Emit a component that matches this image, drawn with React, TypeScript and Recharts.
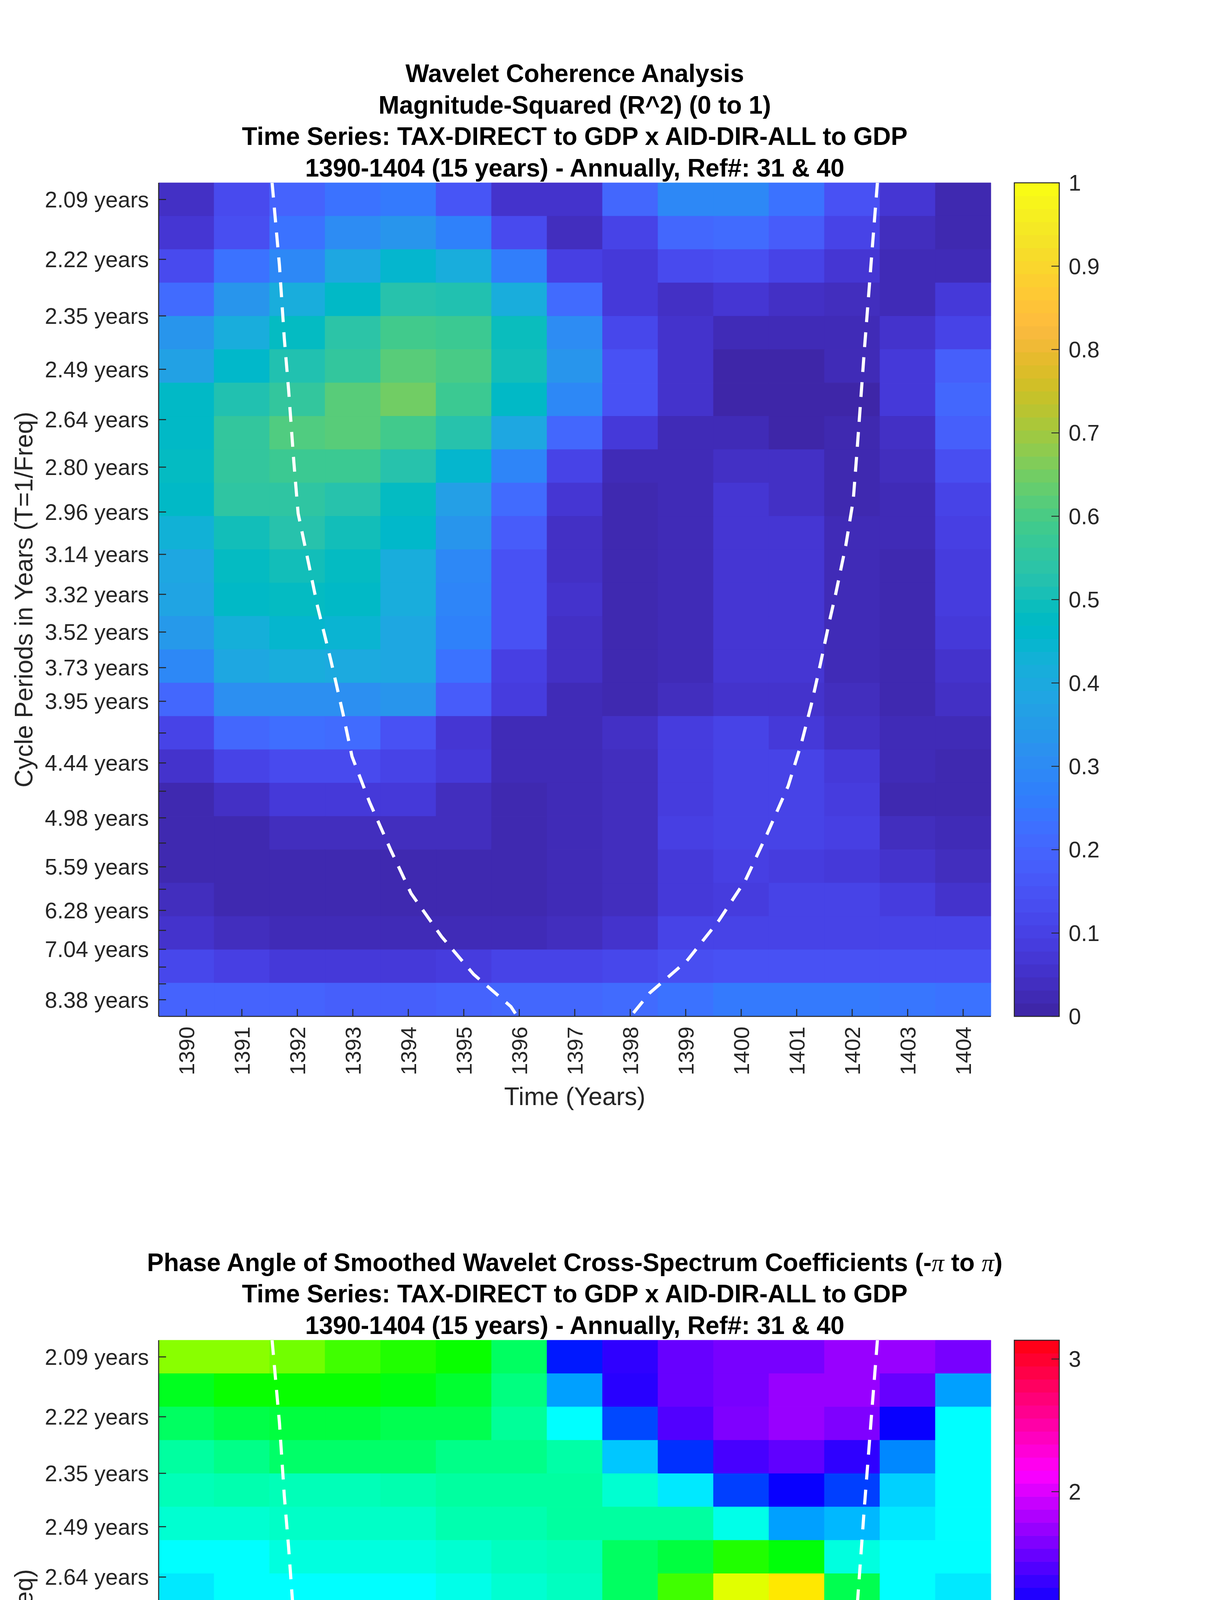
import { ComposedChart, XAxis, YAxis, ReferenceArea, Scatter } from 'recharts'

// ── Fonts / ink ───────────────────────────────────────────────────────────────
const FONT = '"Liberation Sans", Arial, Helvetica, sans-serif'
const SERIF = '"Liberation Serif", "Times New Roman", serif'
const INK = '#262626'

// ── Data ──────────────────────────────────────────────────────────────────────
const YEARS = [1390, 1391, 1392, 1393, 1394, 1395, 1396, 1397, 1398, 1399, 1400, 1401, 1402, 1403, 1404]

// wavelet scales (cycle period in years), top row first
const PERIODS = [
  2.0944, 2.2189, 2.3509, 2.4907, 2.6388, 2.7957, 2.9619, 3.1381, 3.3247, 3.5223,
  3.7318, 3.9537, 4.1888, 4.4379, 4.7018, 4.9813, 5.2775, 5.5914, 5.9238, 6.2761,
  6.6493, 7.0447, 7.4636, 7.9074, 8.3776,
]
const PERIOD_LABELS = [
  '2.09 years', '2.22 years', '2.35 years', '2.49 years', '2.64 years', '2.80 years',
  '2.96 years', '3.14 years', '3.32 years', '3.52 years', '3.73 years', '3.95 years',
  '', '4.44 years', '', '4.98 years', '', '5.59 years', '', '6.28 years', '',
  '7.04 years', '', '', '8.38 years',
]

// magnitude-squared coherence, one row per period
const COHERENCE = [
  [0.04, 0.12, 0.19, 0.23, 0.25, 0.15, 0.05, 0.05, 0.20, 0.29, 0.29, 0.23, 0.14, 0.06, 0.01],
  [0.06, 0.13, 0.23, 0.30, 0.33, 0.27, 0.12, 0.03, 0.10, 0.20, 0.21, 0.17, 0.10, 0.03, 0.01],
  [0.12, 0.23, 0.29, 0.39, 0.45, 0.41, 0.26, 0.09, 0.07, 0.12, 0.13, 0.10, 0.06, 0.02, 0.02],
  [0.21, 0.33, 0.41, 0.47, 0.53, 0.52, 0.41, 0.21, 0.07, 0.04, 0.06, 0.04, 0.03, 0.02, 0.07],
  [0.33, 0.41, 0.48, 0.54, 0.59, 0.58, 0.49, 0.30, 0.11, 0.05, 0.02, 0.02, 0.02, 0.05, 0.10],
  [0.37, 0.46, 0.52, 0.56, 0.62, 0.60, 0.50, 0.33, 0.14, 0.05, 0.00, 0.00, 0.02, 0.07, 0.18],
  [0.47, 0.52, 0.56, 0.62, 0.65, 0.58, 0.47, 0.29, 0.14, 0.05, 0.00, 0.00, 0.00, 0.07, 0.20],
  [0.47, 0.56, 0.61, 0.62, 0.59, 0.53, 0.39, 0.20, 0.07, 0.02, 0.02, 0.00, 0.01, 0.04, 0.18],
  [0.48, 0.56, 0.58, 0.58, 0.53, 0.45, 0.28, 0.10, 0.02, 0.02, 0.04, 0.04, 0.01, 0.03, 0.13],
  [0.47, 0.55, 0.55, 0.53, 0.48, 0.36, 0.21, 0.06, 0.01, 0.02, 0.06, 0.04, 0.01, 0.02, 0.10],
  [0.43, 0.50, 0.53, 0.50, 0.46, 0.33, 0.17, 0.04, 0.01, 0.02, 0.06, 0.06, 0.02, 0.02, 0.09],
  [0.39, 0.48, 0.50, 0.48, 0.41, 0.29, 0.14, 0.04, 0.01, 0.02, 0.06, 0.06, 0.02, 0.01, 0.08],
  [0.38, 0.47, 0.48, 0.47, 0.41, 0.28, 0.14, 0.05, 0.01, 0.02, 0.06, 0.06, 0.02, 0.01, 0.08],
  [0.34, 0.42, 0.45, 0.44, 0.39, 0.27, 0.14, 0.04, 0.01, 0.02, 0.06, 0.06, 0.02, 0.01, 0.07],
  [0.29, 0.39, 0.41, 0.40, 0.39, 0.23, 0.09, 0.04, 0.01, 0.02, 0.06, 0.06, 0.02, 0.01, 0.05],
  [0.20, 0.31, 0.31, 0.31, 0.33, 0.17, 0.08, 0.02, 0.01, 0.03, 0.05, 0.05, 0.03, 0.01, 0.04],
  [0.10, 0.20, 0.22, 0.21, 0.14, 0.06, 0.02, 0.02, 0.04, 0.08, 0.10, 0.07, 0.04, 0.02, 0.02],
  [0.05, 0.10, 0.12, 0.12, 0.10, 0.07, 0.02, 0.02, 0.03, 0.08, 0.10, 0.10, 0.07, 0.02, 0.01],
  [0.01, 0.04, 0.07, 0.07, 0.07, 0.03, 0.01, 0.02, 0.03, 0.08, 0.10, 0.10, 0.08, 0.01, 0.01],
  [0.01, 0.01, 0.03, 0.03, 0.03, 0.03, 0.01, 0.02, 0.03, 0.09, 0.10, 0.10, 0.09, 0.03, 0.02],
  [0.01, 0.01, 0.01, 0.01, 0.01, 0.01, 0.01, 0.02, 0.03, 0.07, 0.09, 0.08, 0.07, 0.05, 0.03],
  [0.03, 0.01, 0.01, 0.01, 0.01, 0.01, 0.01, 0.02, 0.03, 0.07, 0.08, 0.10, 0.10, 0.08, 0.05],
  [0.05, 0.03, 0.02, 0.02, 0.02, 0.02, 0.02, 0.03, 0.05, 0.10, 0.10, 0.10, 0.10, 0.10, 0.10],
  [0.11, 0.09, 0.07, 0.07, 0.07, 0.08, 0.10, 0.10, 0.11, 0.13, 0.14, 0.14, 0.14, 0.14, 0.14],
  [0.19, 0.19, 0.19, 0.18, 0.18, 0.19, 0.20, 0.20, 0.21, 0.23, 0.25, 0.25, 0.25, 0.24, 0.23],
]

// phase angle (radians), one row per period
const PHASE = [
  [-1.61, -1.61, -1.51, -1.31, -1.18, -1.08, -0.65, 0.95, 1.24, 1.47, 1.54, 1.54, 1.67, 1.67, 1.54],
  [-0.92, -1.08, -1.08, -1.08, -0.98, -0.85, -0.52, 0.39, 1.21, 1.47, 1.54, 1.67, 1.67, 1.47, 0.39],
  [-0.65, -0.75, -0.79, -0.79, -0.72, -0.72, -0.42, 0.00, 0.75, 1.38, 1.57, 1.67, 1.57, 1.08, 0.00],
  [-0.39, -0.49, -0.62, -0.62, -0.62, -0.49, -0.49, -0.36, 0.23, 0.85, 1.34, 1.44, 1.24, 0.49, 0.00],
  [-0.29, -0.33, -0.29, -0.29, -0.33, -0.39, -0.39, -0.39, -0.19, 0.09, 0.79, 1.08, 0.79, 0.19, 0.00],
  [-0.19, -0.19, -0.23, -0.23, -0.23, -0.33, -0.33, -0.39, -0.39, -0.39, -0.09, 0.39, 0.29, 0.09, 0.00],
  [0.00, 0.00, -0.13, -0.13, -0.13, -0.19, -0.26, -0.29, -0.65, -0.79, -1.18, -1.01, -0.13, 0.00, 0.00],
  [0.09, 0.00, 0.00, 0.00, 0.00, -0.09, -0.19, -0.26, -0.65, -1.31, -1.97, -2.19, -0.72, 0.00, 0.09],
  [0.19, 0.09, 0.09, 0.09, 0.09, 0.09, 0.00, -0.09, -0.65, -2.07, -2.55, -2.65, -2.25, 0.19, 0.19],
  [0.19, 0.19, 0.19, 0.19, 0.19, 0.19, 0.19, 0.19, -0.13, -2.75, -2.84, -2.84, -2.94, 0.39, 0.29],
  [0.29, 0.29, 0.29, 0.29, 0.29, 0.29, 0.39, 0.49, 1.18, -3.04, -2.94, -2.94, -3.13, 0.59, 0.39],
  [0.39, 0.29, 0.29, 0.29, 0.39, 0.39, 0.39, 0.59, 1.47, -3.01, -2.94, -2.94, -3.13, 0.79, 0.49],
  [0.39, 0.39, 0.39, 0.39, 0.39, 0.39, 0.49, 0.59, 1.44, -2.94, -2.84, -2.94, -3.13, 0.88, 0.49],
  [0.49, 0.49, 0.49, 0.49, 0.49, 0.49, 0.49, 0.59, 1.67, -2.94, -2.84, -2.84, -3.13, 1.18, 0.59],
  [0.55, 0.49, 0.49, 0.49, 0.55, 0.55, 0.55, 0.75, 2.09, -3.04, -2.94, -2.94, -3.13, 1.57, 0.79],
  [0.65, 0.55, 0.55, 0.55, 0.65, 0.65, 0.79, 1.15, 2.49, -3.13, -3.04, -3.04, 3.04, 2.09, 1.05],
  [0.75, 0.75, 0.75, 0.75, 0.75, 0.88, 1.15, 1.74, 2.88, 3.01, -3.04, -3.04, 3.01, 2.68, 1.41],
  [1.05, 0.98, 0.85, 0.98, 1.05, 1.15, 1.54, 2.09, 2.81, 3.01, -3.04, -3.04, -3.11, 2.88, 2.09],
  [1.34, 1.15, 1.15, 1.15, 1.18, 1.44, 1.97, 2.62, 2.94, -3.13, -3.04, -3.04, -3.04, -3.13, 2.75],
  [1.93, 1.47, 1.41, 1.41, 1.44, 1.74, 2.09, 2.75, 2.94, -3.13, -3.04, -3.04, -3.04, -3.13, 2.94],
  [2.62, 2.15, 1.97, 1.97, 1.97, 2.19, 2.62, 2.94, -3.11, -3.04, -2.98, -2.98, -2.98, -3.04, 3.11],
  [-3.13, 2.94, 2.88, 2.78, 2.88, 2.94, -3.13, -2.94, -2.84, -2.75, -2.75, -2.75, -2.75, -2.84, -2.94],
  [-2.84, -2.84, -2.94, -2.84, -2.84, -2.75, -2.65, -2.55, -2.55, -2.55, -2.55, -2.55, -2.65, -2.65, -2.75],
  [-2.65, -2.65, -2.65, -2.65, -2.65, -2.49, -2.45, -2.45, -2.35, -2.35, -2.45, -2.45, -2.45, -2.55, -2.49],
  [-2.55, -2.52, -2.52, -2.52, -2.52, -2.52, -2.45, -2.45, -2.35, -2.35, -2.35, -2.42, -2.42, -2.42, -2.52],
]

// cone of influence (time, period in years)
const COI_LEFT = [
  { t: 1391.545, p: 2.062 }, { t: 1391.678, p: 2.233 }, { t: 1391.765, p: 2.408 },
  { t: 1391.842, p: 2.548 }, { t: 1391.937, p: 2.778 }, { t: 1392.014, p: 2.967 },
  { t: 1392.197, p: 3.171 }, { t: 1392.361, p: 3.382 }, { t: 1392.601, p: 3.682 },
  { t: 1392.822, p: 4.040 }, { t: 1392.985, p: 4.381 }, { t: 1393.302, p: 4.813 },
  { t: 1393.687, p: 5.372 }, { t: 1394.052, p: 5.993 }, { t: 1394.600, p: 6.775 },
  { t: 1395.177, p: 7.649 }, { t: 1395.849, p: 8.598 }, { t: 1395.965, p: 8.936 },
]
const COI_RIGHT = [
  { t: 1402.455, p: 2.062 }, { t: 1402.356, p: 2.204 }, { t: 1402.289, p: 2.314 },
  { t: 1402.221, p: 2.436 }, { t: 1402.154, p: 2.580 }, { t: 1402.087, p: 2.742 },
  { t: 1402.020, p: 2.915 }, { t: 1401.885, p: 3.100 }, { t: 1401.703, p: 3.323 },
  { t: 1401.588, p: 3.467 }, { t: 1401.424, p: 3.715 }, { t: 1401.261, p: 3.982 },
  { t: 1401.087, p: 4.268 }, { t: 1400.847, p: 4.651 }, { t: 1400.463, p: 5.172 },
  { t: 1400.078, p: 5.784 }, { t: 1399.598, p: 6.459 }, { t: 1399.021, p: 7.311 },
  { t: 1398.348, p: 8.175 }, { t: 1398.007, p: 8.936 },
]

const COHERENCE_TICKS = [0, 0.1, 0.2, 0.3, 0.4, 0.5, 0.6, 0.7, 0.8, 0.9, 1]
const PHASE_TICKS = [-3, -2, -1, 0, 1, 2, 3]

// title lines; "π" is drawn like TeX's italic pi
const TITLE_COHERENCE = [
  'Wavelet Coherence Analysis',
  'Magnitude-Squared (R^2) (0 to 1)',
  'Time Series: TAX-DIRECT to GDP x AID-DIR-ALL to GDP',
  '1390-1404 (15 years) - Annually, Ref#: 31 & 40',
]
const TITLE_PHASE = [
  'Phase Angle of Smoothed Wavelet Cross-Spectrum Coefficients (-π to π)',
  'Time Series: TAX-DIRECT to GDP x AID-DIR-ALL to GDP',
  '1390-1404 (15 years) - Annually, Ref#: 31 & 40',
]
const X_TITLE = 'Time (Years)'
const Y_TITLE = 'Cycle Periods in Years (T=1/Freq)'

// ── Colormaps ─────────────────────────────────────────────────────────────────

// MATLAB parula(64)
const PARULA: number[][] = [
  [0.2422, 0.1504, 0.6603], [0.2504, 0.1650, 0.7076], [0.2578, 0.1818, 0.7511], [0.2647, 0.1978, 0.7952],
  [0.2706, 0.2147, 0.8364], [0.2751, 0.2342, 0.8710], [0.2783, 0.2559, 0.8991], [0.2803, 0.2782, 0.9221],
  [0.2813, 0.3006, 0.9414], [0.2810, 0.3228, 0.9579], [0.2795, 0.3447, 0.9717], [0.2760, 0.3667, 0.9829],
  [0.2699, 0.3892, 0.9906], [0.2602, 0.4123, 0.9952], [0.2440, 0.4358, 0.9988], [0.2206, 0.4603, 0.9973],
  [0.1963, 0.4847, 0.9892], [0.1834, 0.5074, 0.9798], [0.1786, 0.5289, 0.9682], [0.1764, 0.5499, 0.9520],
  [0.1687, 0.5703, 0.9359], [0.1540, 0.5902, 0.9218], [0.1460, 0.6091, 0.9079], [0.1380, 0.6276, 0.8973],
  [0.1248, 0.6459, 0.8883], [0.1113, 0.6635, 0.8763], [0.0952, 0.6798, 0.8598], [0.0689, 0.6948, 0.8394],
  [0.0297, 0.7082, 0.8163], [0.0036, 0.7203, 0.7917], [0.0067, 0.7312, 0.7660], [0.0433, 0.7411, 0.7394],
  [0.0964, 0.7500, 0.7120], [0.1408, 0.7584, 0.6842], [0.1717, 0.7670, 0.6554], [0.1938, 0.7758, 0.6251],
  [0.2161, 0.7843, 0.5923], [0.2470, 0.7918, 0.5567], [0.2906, 0.7973, 0.5188], [0.3406, 0.8008, 0.4789],
  [0.3909, 0.8029, 0.4354], [0.4456, 0.8024, 0.3909], [0.5044, 0.7993, 0.3480], [0.5616, 0.7942, 0.3045],
  [0.6174, 0.7876, 0.2612], [0.6720, 0.7793, 0.2227], [0.7242, 0.7698, 0.1910], [0.7738, 0.7598, 0.1646],
  [0.8203, 0.7498, 0.1535], [0.8634, 0.7406, 0.1596], [0.9035, 0.7330, 0.1774], [0.9393, 0.7288, 0.2100],
  [0.9728, 0.7298, 0.2394], [0.9956, 0.7434, 0.2371], [0.9970, 0.7659, 0.2199], [0.9952, 0.7893, 0.2028],
  [0.9892, 0.8136, 0.1885], [0.9786, 0.8386, 0.1766], [0.9676, 0.8639, 0.1643], [0.9610, 0.8890, 0.1537],
  [0.9597, 0.9135, 0.1423], [0.9628, 0.9373, 0.1265], [0.9691, 0.9606, 0.1064], [0.9769, 0.9839, 0.0805],
]

function rgb(r: number, g: number, b: number) {
  return `rgb(${Math.round(r * 255)},${Math.round(g * 255)},${Math.round(b * 255)})`
}

function parula(v: number) {
  const pos = Math.max(0, Math.min(1, v)) * (PARULA.length - 1)
  const i = Math.min(PARULA.length - 2, Math.floor(pos))
  const f = pos - i
  const a = PARULA[i]
  const b = PARULA[i + 1]
  return rgb(a[0] + (b[0] - a[0]) * f, a[1] + (b[1] - a[1]) * f, a[2] + (b[2] - a[2]) * f)
}

// full-saturation hsv, hue in [0,1)
function hsv(h: number) {
  const x = (((h % 1) + 1) % 1) * 6
  const i = Math.floor(x)
  const f = x - i
  const q = 1 - f
  const table = [[1, f, 0], [q, 1, 0], [0, 1, f], [0, q, 1], [f, 0, 1], [1, 0, q]]
  const c = table[i % 6]
  return rgb(c[0], c[1], c[2])
}

const phaseColor = (a: number) => hsv((a + Math.PI) / (2 * Math.PI))

// ── Geometry helpers (imagesc layout on a linear frequency axis) ─────────────

const F_FIRST = 1 / PERIODS[0]
const F_LAST = 1 / PERIODS[PERIODS.length - 1]
const ROW_STEP = (F_FIRST - F_LAST) / (PERIODS.length - 1)
const Y_DOMAIN = [F_LAST - ROW_STEP / 2, F_FIRST + ROW_STEP / 2]
const FREQ_TICKS = PERIODS.map((p) => 1 / p)
const X_DOMAIN = [YEARS[0] - 0.5, YEARS[YEARS.length - 1] + 0.5]

function freqLabel(v: number) {
  let best = 0
  FREQ_TICKS.forEach((f, i) => {
    if (Math.abs(f - v) < Math.abs(FREQ_TICKS[best] - v)) best = i
  })
  return PERIOD_LABELS[best]
}

// ── Layout (page pixels) ──────────────────────────────────────────────────────

const PAGE_W = 3125
const PAGE_H = 6252
const PLOT_LEFT = 406
const PLOT_RIGHT = 2536
const PLOT_H = 2134
const HEAD = 368          // svg space above the plot, holds the title
const X_AXIS_H = 260
const PLOT_CX = (PLOT_LEFT + PLOT_RIGHT) / 2
const AXIS_STROKE = { stroke: INK, strokeWidth: 2.6 }
const TICK_FONT = 57
const LABEL_FONT = 64
const CB_LEFT = 2596
const CB_RIGHT = 2711
const CB_PAD = 44

// ── Pieces ────────────────────────────────────────────────────────────────────

// eslint-disable-next-line @typescript-eslint/no-explicit-any
function YearTick(props: any) {
  const { x, y, payload } = props
  return (
    <text
      x={x} y={y}
      transform={`rotate(-90 ${x} ${y})`}
      textAnchor="end" dy="0.36em"
      fontSize={56} fontFamily={FONT} fill={INK}
    >
      {payload.value}
    </text>
  )
}

function TitleLine({ text, y }: { text: string; y: number }) {
  const parts = text.split('π')
  return (
    <text
      x={PLOT_CX} y={y} dy="0.36em" textAnchor="middle"
      fontFamily={FONT} fontSize={LABEL_FONT} fontWeight="bold" fill="#000"
    >
      {parts.map((p, i) => (
        <tspan key={i}>
          {p}
          {i < parts.length - 1 && (
            <tspan fontFamily={SERIF} fontStyle="italic" fontWeight="normal">π</tspan>
          )}
        </tspan>
      ))}
    </text>
  )
}

function Heatmap({
  plotTop, title, colorOf,
}: {
  plotTop: number
  title: string[]
  colorOf: (r: number, c: number) => string
}) {
  const cells = PERIODS.flatMap((_, r) =>
    YEARS.map((yr, c) => {
      const fc = F_FIRST - r * ROW_STEP
      const col = colorOf(r, c)
      return (
        <ReferenceArea
          key={`${r}-${c}`}
          x1={yr - 0.5} x2={yr + 0.5}
          y1={fc - ROW_STEP / 2} y2={fc + ROW_STEP / 2}
          fill={col} fillOpacity={1} stroke={col} strokeWidth={1}
          ifOverflow="visible"
        />
      )
    }),
  )
  const coi = (pts: { t: number; p: number }[]) => pts.map((d) => ({ t: d.t, f: 1 / d.p }))
  const dashed = { stroke: '#ffffff', strokeWidth: 8, strokeDasharray: '38 26', fill: 'none' }
  // title line centres, counted up from the plot top
  const lineY = [-39, -120, -200, -281].slice(0, title.length).reverse()

  return (
    <div style={{ position: 'absolute', left: 0, top: plotTop - HEAD }}>
      <ComposedChart
        width={PAGE_W}
        height={HEAD + PLOT_H + X_AXIS_H}
        margin={{ top: HEAD, right: PAGE_W - PLOT_RIGHT, bottom: 0, left: 0 }}
      >
        {cells}
        <Scatter data={coi(COI_LEFT)} fill="none" line={dashed} lineType="joint" shape={() => <g />} isAnimationActive={false} />
        <Scatter data={coi(COI_RIGHT)} fill="none" line={dashed} lineType="joint" shape={() => <g />} isAnimationActive={false} />
        <XAxis
          dataKey="t" type="number" domain={X_DOMAIN} ticks={YEARS} interval={0} allowDataOverflow
          height={X_AXIS_H} tickSize={-19} tickMargin={45}
          axisLine={AXIS_STROKE} tickLine={AXIS_STROKE} tick={<YearTick />}
        />
        <XAxis
          xAxisId="top" orientation="top" type="number" domain={X_DOMAIN} ticks={YEARS} interval={0}
          allowDataOverflow height={0} tickSize={-19} tick={false}
          axisLine={AXIS_STROKE} tickLine={AXIS_STROKE}
        />
        <YAxis
          dataKey="f" type="number" domain={Y_DOMAIN} ticks={FREQ_TICKS} interval={0} allowDataOverflow
          width={PLOT_LEFT} tickSize={-19} tickMargin={44} tickFormatter={freqLabel}
          axisLine={AXIS_STROKE} tickLine={AXIS_STROKE}
          tick={{ fontSize: TICK_FONT, fontFamily: FONT, fill: INK }}
        />
        <YAxis
          yAxisId="right" orientation="right" type="number" domain={Y_DOMAIN} ticks={FREQ_TICKS}
          interval={0} allowDataOverflow width={0} tickSize={-19} tick={false}
          axisLine={AXIS_STROKE} tickLine={AXIS_STROKE}
        />
        {title.map((t, i) => (
          <TitleLine key={t} text={t} y={HEAD + lineY[i]} />
        ))}
        <text
          x={PLOT_CX} y={HEAD + PLOT_H + 204} dy="0.36em" textAnchor="middle"
          fontFamily={FONT} fontSize={LABEL_FONT} fill={INK}
        >
          {X_TITLE}
        </text>
        <text
          x={60} y={HEAD + PLOT_H / 2} dy="0.36em" textAnchor="middle"
          transform={`rotate(-90 60 ${HEAD + PLOT_H / 2})`}
          fontFamily={FONT} fontSize={LABEL_FONT} fill={INK}
        >
          {Y_TITLE}
        </text>
      </ComposedChart>
    </div>
  )
}

function Colorbar({
  plotTop, domain, ticks, colorOfBand, format,
}: {
  plotTop: number
  domain: number[]
  ticks: number[]
  colorOfBand: (i: number) => string
  format: (v: number) => string
}) {
  const n = 64
  const step = (domain[1] - domain[0]) / n
  const centres = Array.from({ length: n }, (_, i) => ({ x: 0.5, y: domain[0] + (i + 0.5) * step }))
  const bands = centres.map((c, i) => (
    <ReferenceArea
      key={i}
      x1={0} x2={1}
      y1={c.y - step / 2} y2={c.y + step / 2}
      fill={colorOfBand(i)} fillOpacity={1} stroke={colorOfBand(i)} strokeWidth={1}
      ifOverflow="visible"
    />
  ))
  const left = 2560
  const width = 380
  return (
    <div style={{ position: 'absolute', left, top: plotTop - CB_PAD }}>
      <ComposedChart
        width={width}
        height={PLOT_H + 2 * CB_PAD}
        margin={{ top: CB_PAD, right: width - 180 - (CB_RIGHT - left), bottom: CB_PAD, left: CB_LEFT - left }}
      >
        {bands}
        <Scatter data={centres} fill="none" shape={() => <g />} isAnimationActive={false} />
        <ReferenceArea
          x1={0} x2={1} y1={domain[0]} y2={domain[1]}
          fill="none" stroke={INK} strokeWidth={2.6} ifOverflow="visible"
        />
        <XAxis dataKey="x" type="number" domain={[0, 1]} allowDataOverflow hide />
        <YAxis
          dataKey="y" orientation="right" type="number" domain={domain} ticks={ticks} interval={0} allowDataOverflow
          width={180} tickSize={-20} tickMargin={44} tickFormatter={format}
          axisLine={false} tickLine={{ stroke: INK, strokeWidth: 2.2 }}
          tick={{ fontSize: TICK_FONT, fontFamily: FONT, fill: INK }}
        />
      </ComposedChart>
    </div>
  )
}

// ── Main component ────────────────────────────────────────────────────────────

export default function App() {
  const topPlot = 468
  const bottomPlot = 3431
  return (
    <div style={{ position: 'absolute', left: 0, top: 0, width: PAGE_W, height: PAGE_H, background: '#fff' }}>
      <Heatmap plotTop={topPlot} title={TITLE_COHERENCE} colorOf={(r, c) => parula(COHERENCE[r][c])} />
      <Colorbar
        plotTop={topPlot}
        domain={[0, 1]}
        ticks={COHERENCE_TICKS}
        colorOfBand={(i) => rgb(PARULA[i][0], PARULA[i][1], PARULA[i][2])}
        format={(v) => String(v)}
      />
      <Heatmap plotTop={bottomPlot} title={TITLE_PHASE} colorOf={(r, c) => phaseColor(PHASE[r][c])} />
      <Colorbar
        plotTop={bottomPlot}
        domain={[-Math.PI, Math.PI]}
        ticks={PHASE_TICKS}
        colorOfBand={(i) => hsv(i / 64)}
        format={(v) => (v < 0 ? `\u2212${Math.abs(v)}` : String(v))}
      />
    </div>
  )
}
